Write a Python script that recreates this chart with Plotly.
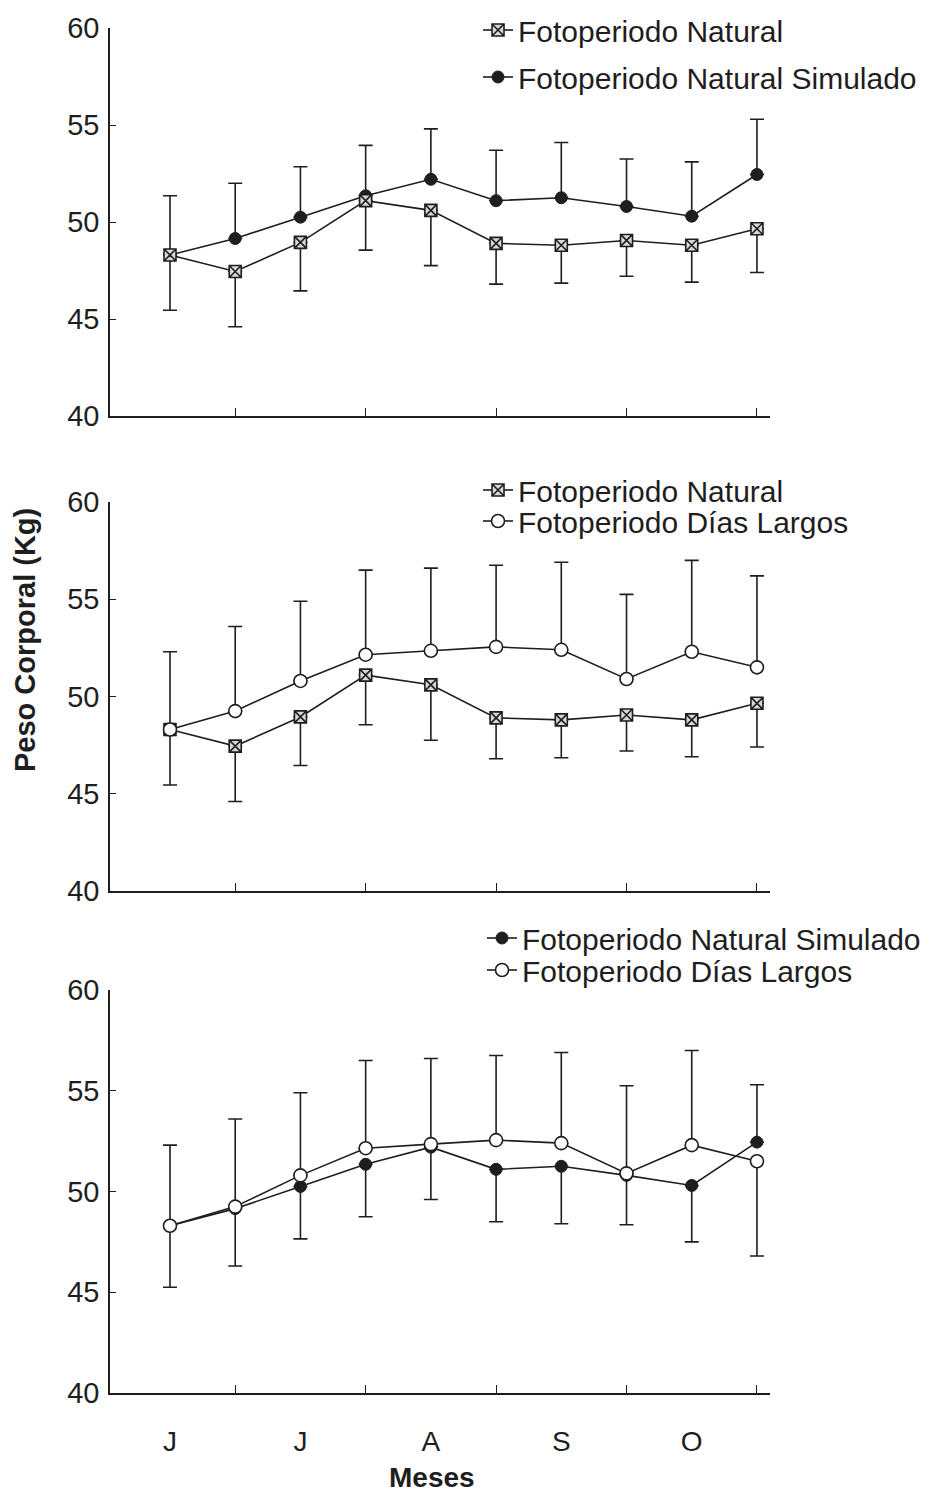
import plotly.graph_objects as go

# ---- data ----
quincenas = list(range(10))
meses_pos = [0, 2, 4, 6, 8]
meses = ["J", "J", "A", "S", "O"]
yticks = [40, 45, 50, 55, 60]

natural = [48.3, 47.45, 48.95, 51.1, 50.6, 48.9, 48.8, 49.05, 48.8, 49.65]
natural_de = [2.85, 2.85, 2.5, 2.55, 2.85, 2.1, 1.95, 1.85, 1.9, 2.25]
simulado = [48.3, 49.15, 50.25, 51.35, 52.2, 51.1, 51.25, 50.8, 50.3, 52.45]
simulado_de = [3.05, 2.85, 2.6, 2.6, 2.6, 2.6, 2.85, 2.45, 2.8, 2.85]
largos = [48.3, 49.25, 50.8, 52.15, 52.35, 52.55, 52.4, 50.9, 52.3, 51.5]
largos_de = [4.0, 4.35, 4.1, 4.35, 4.25, 4.2, 4.5, 4.35, 4.7, 4.7]

FONT = "Liberation Sans, Arial, sans-serif"
INK = "#1e1e1e"

series = {
    "nat": dict(name="Fotoperiodo Natural", y=natural, de=natural_de, rank=1,
                marker=dict(symbol="square-x", size=12, color="#d8d8d8",
                            line=dict(color=INK, width=1.6))),
    "sim": dict(name="Fotoperiodo Natural Simulado", y=simulado, de=simulado_de, rank=2,
                marker=dict(symbol="circle", size=12, color=INK,
                            line=dict(color=INK, width=1))),
    "lar": dict(name="Fotoperiodo Días Largos", y=largos, de=largos_de, rank=3,
                marker=dict(symbol="circle", size=13, color="white",
                            line=dict(color=INK, width=1.6))),
}

# panel -> (draw order, legend order)
panels = [
    (["sim", "nat"], ["nat", "sim"]),
    (["nat", "lar"], ["nat", "lar"]),
    (["sim", "lar"], ["sim", "lar"]),
]

# geometry: page body has an 8px margin, so work in window pixels minus 8
OFF = 8
W, H = 951 - 2 * OFF, 1503 - 2 * OFF
ML, MT = 110 - OFF, 28 - OFF
MR = W - (770 - OFF)
MB = H - (1393 - OFF)
PW, PH = W - ML - MR, H - MT - MB
def py(p):
    return (H - MB - (p - OFF)) / PH
def px(p):
    return ((p - OFF) - ML) / PW

domains = [[py(416), py(28)], [py(891), py(502)], [py(1393), py(990)]]
legend_rows = [[30, 77], [490, 521], [938, 970]]

fig = go.Figure()
for i, (draw, legord) in enumerate(panels):
    sfx = "" if i == 0 else str(i + 1)
    for key in draw:
        s = series[key]
        other = series[[k for k in draw if k != key][0]]
        up, dn = [], []
        for v, o, d in zip(s["y"], other["y"], s["de"]):
            higher = v > o or (v == o and s["rank"] > other["rank"])
            up.append(d if higher else 0)
            dn.append(0 if higher else d)
        n = i * 2 + legord.index(key)
        legname = "legend" if n == 0 else "legend%d" % (n + 1)
        fig.add_trace(go.Scatter(
            x=quincenas, y=s["y"], name=s["name"], mode="lines+markers",
            line=dict(color=INK, width=1.6), marker=s["marker"],
            error_y=dict(type="data", symmetric=False, array=up, arrayminus=dn,
                         color=INK, thickness=1.6, width=7),
            xaxis="x" + sfx, yaxis="y" + sfx, legend=legname, showlegend=True,
        ))

layout = dict(
    width=W, height=H, autosize=False,
    margin=dict(l=ML, r=MR, t=MT, b=MB, autoexpand=False),
    paper_bgcolor="white", plot_bgcolor="white",
    font=dict(family=FONT, color=INK, size=29),
    showlegend=True,
)
for i in range(3):
    sfx = "" if i == 0 else str(i + 1)
    layout["xaxis" + sfx] = dict(
        domain=[0, 1], anchor="y" + sfx, range=[-0.92, 9.2],
        showline=True, linecolor=INK, linewidth=1.6, showgrid=False, zeroline=False,
        tickvals=meses_pos, ticktext=meses if i == 2 else [""] * 5,
        ticks="", ticklabelstandoff=23, automargin=False,
        tickfont=dict(size=28, family=FONT, color=INK),
        minor=dict(tick0=1, dtick=2, ticks="inside", ticklen=8, tickwidth=1.4,
                   tickcolor=INK, showgrid=False),
    )
    layout["yaxis" + sfx] = dict(
        domain=domains[i], anchor="x" + sfx, range=[40, 60],
        showline=True, linecolor=INK, linewidth=1.6, showgrid=False, zeroline=False,
        tickvals=yticks, ticks="inside", ticklen=6, tickwidth=1.4, tickcolor=INK,
        ticklabelstandoff=3, automargin=False,
        tickfont=dict(size=29, family=FONT, color=INK),
    )

for i, (draw, legord) in enumerate(panels):
    for j in range(2):
        n = i * 2 + j
        lname = "legend" if n == 0 else "legend%d" % (n + 1)
        layout[lname] = dict(
            x=px(478 if i < 2 else 482), y=py(legend_rows[i][j]),
            xanchor="left", yanchor="middle", xref="paper", yref="paper",
            bgcolor="rgba(0,0,0,0)", borderwidth=0,
            font=dict(size=30, family=FONT, color=INK),
            itemsizing="trace",
        )

layout["annotations"] = [
    dict(text="<b>Peso Corporal (Kg)</b>", textangle=-90, x=px(25), y=py(640),
         xref="paper", yref="paper", xanchor="center", yanchor="middle",
         showarrow=False, font=dict(size=29, family=FONT, color=INK)),
    dict(text="<b>Meses</b>", x=px(432), y=py(1477), xref="paper", yref="paper",
         xanchor="center", yanchor="middle", showarrow=False,
         font=dict(size=28, family=FONT, color=INK)),
]

fig.update_layout(**layout)
fig.write_html("out.html")
